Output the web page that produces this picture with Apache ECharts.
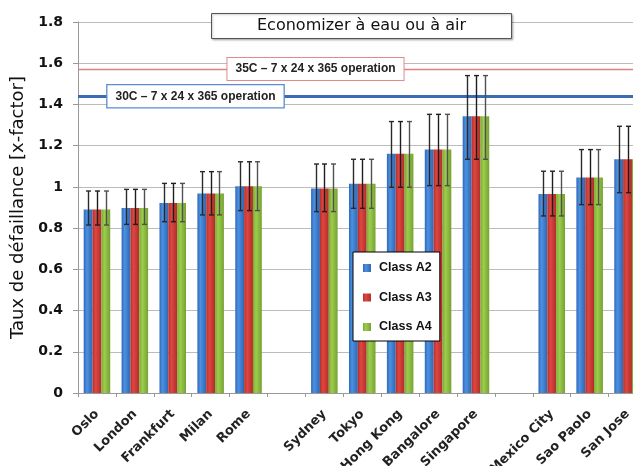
<!DOCTYPE html>
<html>
<head>
<meta charset="utf-8">
<script src="https://cdn.jsdelivr.net/npm/echarts@6/dist/echarts.min.js"></script>
<style>html,body{margin:0;padding:0;background:#fff}#c{width:633px;height:466px}</style>
</head>
<body>
<div id="c"></div>
<script>
// ---- data ----
const categories = ['Oslo','London','Frankfurt','Milan','Rome','','Sydney','Tokyo','Hong Kong','Bangalore','Singapore','','Mexico City','Sao Paolo','San Jose'];
const seriesNames = ['Class A2','Class A3','Class A4'];
const classA2 = [0.89, 0.898, 0.922, 0.968, 1.003, '-', 0.992, 1.015, 1.161, 1.182, 1.343, '-', 0.966, 1.045, 1.134];
const classA3 = [0.89, 0.898, 0.922, 0.968, 1.003, '-', 0.992, 1.015, 1.161, 1.182, 1.343, '-', 0.966, 1.045, 1.134];
const classA4 = [0.89, 0.898, 0.922, 0.968, 1.003, '-', 0.992, 1.015, 1.161, 1.182, 1.343, '-', 0.966, 1.045, 1.134];
const errLow  = [0.815, 0.818, 0.831, 0.864, 0.885, '-', 0.88, 0.896, 0.998, 1.006, 1.134, '-', 0.859, 0.914, 0.972];
const errHigh = [0.98, 0.988, 1.017, 1.074, 1.122, '-', 1.111, 1.134, 1.317, 1.352, 1.54, '-', 1.076, 1.181, 1.294];
const line35C = 1.572;
const line30C = 1.44;
const label35C = '35C \u2013 7 x 24 x 365 operation';
const label30C = '30C \u2013 7 x 24 x 365 operation';
const titleText = 'Economizer \u00e0 eau ou \u00e0 air';
const yName = 'Taux de d\u00e9faillance [x-factor]';

// ---- styling ----
const G = echarts.graphic;
const colors = [
  new G.LinearGradient(0,0,1,0,[{offset:0,color:'#2f68b8'},{offset:0.35,color:'#4c91e2'},{offset:1,color:'#3066b0'}]),
  new G.LinearGradient(0,0,1,0,[{offset:0,color:'#b5302c'},{offset:0.35,color:'#de4741'},{offset:1,color:'#b02d2a'}]),
  new G.LinearGradient(0,0,1,0,[{offset:0,color:'#7aa932'},{offset:0.35,color:'#9ccd4e'},{offset:1,color:'#76a230'}])
];
const errColors = ['#2a2a2a', '#1e1e1e', '#505050'];
const gapRatio = 0.3;
const seriesData = [classA2, classA3, classA4];

function errData() {
  const out = [];
  for (let i = 0; i < categories.length; i++) {
    if (errLow[i] === '-') continue;
    out.push([i, errLow[i], errHigh[i]]);
  }
  return out;
}

function makeErr(k) {
  return {
    type: 'custom',
    name: 'err' + k,
    z: 5,
    silent: true,
    data: errData(),
    encode: { x: 0, y: [1, 2] },
    renderItem: function (params, api) {
      const i = api.value(0);
      const hi = api.coord([i, api.value(2)]);
      const lo = api.coord([i, api.value(1)]);
      const band = api.size([1, 0])[0];
      const bw = band * (1 - gapRatio) / 3;
      const x = Math.round(hi[0] + (k - 1) * bw) + 0.5;
      const cap = 2.5;
      const st = { stroke: errColors[k], lineWidth: 1.4 };
      return {
        type: 'group',
        children: [
          { type: 'line', shape: { x1: x, y1: hi[1], x2: x, y2: lo[1] }, style: st },
          { type: 'line', shape: { x1: x - cap, y1: hi[1], x2: x + cap, y2: hi[1] }, style: st },
          { type: 'line', shape: { x1: x - cap, y1: lo[1], x2: x + cap, y2: lo[1] }, style: st }
        ]
      };
    }
  };
}

const bars = seriesNames.map((n, k) => ({
  type: 'bar',
  name: n,
  data: seriesData[k],
  barGap: '0%',
  barCategoryGap: (gapRatio * 100) + '%',
  itemStyle: { color: colors[k] },
  z: 3
}));
bars[0].markLine = {
  silent: true,
  symbol: 'none',
  label: { show: false },
  z: 4,
  data: [
    { yAxis: line35C, lineStyle: { color: '#e08080', width: 1.3, type: 'solid' } },
    { yAxis: line30C, lineStyle: { color: '#3a6cb2', width: 3, type: 'solid' } }
  ]
};

const chart = echarts.init(document.getElementById('c'), null, { renderer: 'canvas' });
const option = {
  animation: false,
  backgroundColor: '#fff',
  title: {
    text: titleText,
    left: 211, top: 13,
    padding: [4, 46, 4, 46],
    backgroundColor: '#fff',
    borderColor: '#555',
    borderWidth: 1,
    shadowColor: 'rgba(0,0,0,0.25)', shadowBlur: 2, shadowOffsetX: 1, shadowOffsetY: 1,
    textStyle: { fontFamily: 'DejaVu Sans', fontSize: 16, fontWeight: 'normal', color: '#111', lineHeight: 18 },
    z: 10
  },
  legend: {
    data: seriesNames,
    orient: 'vertical',
    left: 353, top: 252,
    padding: [8, 8, 6, 10],
    itemGap: 13.5,
    itemWidth: 8, itemHeight: 8,
    icon: 'rect',
    backgroundColor: '#fff',
    borderColor: '#000',
    borderWidth: 1,
    textStyle: { fontFamily: 'Liberation Sans', fontWeight: 'bold', fontSize: 12.5, color: '#111', lineHeight: 16, padding: [0, 0, 0, 3] },
    z: 10
  },
  grid: { left: 78, right: -13.5, top: 22, bottom: 73, outerBoundsMode: 'none', containLabel: false },
  xAxis: {
    type: 'category',
    data: categories,
    axisLine: { lineStyle: { color: '#999', width: 1 } },
    axisTick: { show: true, length: 4, lineStyle: { color: '#999' } },
    axisLabel: { interval: 0, rotate: 45, margin: 19, fontFamily: 'DejaVu Sans', fontWeight: 'bold', fontSize: 13, color: '#222' },
    splitLine: { show: false }
  },
  yAxis: {
    type: 'value',
    min: 0, max: 1.8, interval: 0.2,
    name: yName,
    nameLocation: 'middle',
    nameGap: 46,
    nameTextStyle: { fontFamily: 'DejaVu Sans', fontSize: 18, color: '#111' },
    axisLine: { show: true, lineStyle: { color: '#999' } },
    axisTick: { show: true, length: 5, lineStyle: { color: '#999' } },
    axisLabel: { margin: 15, fontFamily: 'DejaVu Sans', fontWeight: 'bold', fontSize: 14, color: '#111' },
    splitLine: { show: true, lineStyle: { color: '#bcbcbc', width: 1 } }
  },
  series: bars.concat([makeErr(0), makeErr(1), makeErr(2)])
};
chart.setOption(option);

// annotation label boxes on the reference lines
function annot(text, cx, val, border, bw) {
  const y = chart.convertToPixel({ yAxisIndex: 0 }, val);
  return {
    type: 'text',
    x: cx, y: y,
    z: 20,
    style: {
      text: text,
      font: 'bold 12px "Liberation Sans"',
      fill: '#222',
      align: 'center',
      verticalAlign: 'middle',
      backgroundColor: '#fff',
      borderColor: border,
      borderWidth: bw,
      padding: [5, 8, 5, 8]
    }
  };
}
chart.setOption({
  graphic: [
    annot(label35C, 315.5, line35C, '#e08a8a', 1),
    annot(label30C, 195.5, line30C, '#5b8bd0', 1.3)
  ]
});
</script>
</body>
</html>
